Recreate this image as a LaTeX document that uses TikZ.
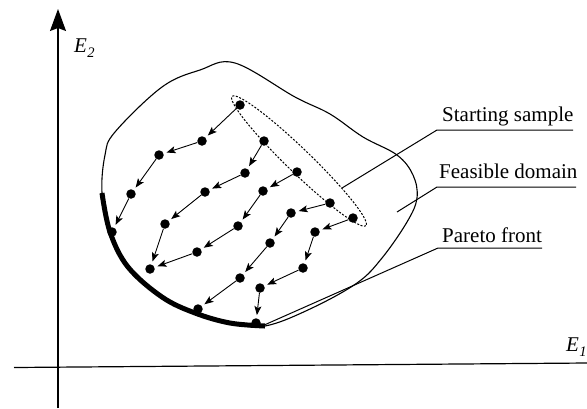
\documentclass[tikz,border=0pt]{standalone}
\usepackage{fontspec}
\setmainfont{Liberation Serif}
\usetikzlibrary{arrows.meta}
\begin{document}
\begin{tikzpicture}[x=1bp,y=-1bp,
  dot/.style={circle,fill=black,inner sep=0pt,minimum size=9.5bp},
  flow/.style={line width=0.9bp,-{Stealth[length=9bp,width=7bp,inset=2bp]},shorten >=3bp},
  lbl/.style={font=\fontsize{21bp}{25bp}\selectfont,anchor=base west,inner sep=0pt},
  lead/.style={line width=1bp},
  axis/.style={line width=1.2bp}]
\useasboundingbox (0,0) rectangle (587,408);
% axes
\coordinate (yb) at (58,408);
\coordinate (yt) at (58,9);
\draw[axis,-{Stealth[length=22bp,width=16bp,inset=3bp]}] (yb) -- (yt);
\coordinate (xl) at (14,367.5);
\coordinate (xr) at (587,363);
\draw[axis] (xl) -- (xr);
\node[lbl] (e2) at (74,52) {\itshape E\kern0.3bp\raisebox{-5bp}{\fontsize{14.5bp}{15bp}\selectfont 2}};
\node[lbl] (e1) at (566,351) {\itshape E\kern0.3bp\raisebox{-5bp}{\fontsize{14.5bp}{15bp}\selectfont 1}};
% feasible domain
\draw[line width=1.1bp] plot[smooth cycle,tension=0.6] coordinates {
  (235,63) (295,97) (330,114) (363,137) (397,155) (413,175) (417,198) (407,222)
  (382,258) (357,283) (310,309) (265,326) (230,323) (195,313) (162,297) (128,267)
  (110,232) (102,193) (105,155) (115,132) (162,87) (200,70)};
% Pareto front
\draw[line width=5bp] plot[smooth,tension=0.6] coordinates {
  (102,193) (110,232) (128,267) (162,297) (195,313) (230,323) (265,326)};
% starting sample ellipse
\draw[line width=1bp,dash pattern=on 2bp off 1.6bp,rotate around={-44:(299,161)}] (299,161) ellipse [x radius=93, y radius=12];
% dots
\foreach \n/\p in {a1/{(240,105)},a2/{(202,141)},a3/{(159,155)},a4/{(131,194)},a5/{(112,232)},
  b1/{(264,141)},b2/{(245,173)},b3/{(205,192)},b4/{(165,224)},b5/{(150,269)},
  c1/{(297,172)},c2/{(263,191)},c3/{(238,226)},c4/{(197,252)},
  d1/{(330,203)},d2/{(291,213)},d3/{(270,243)},d4/{(240,278)},d5/{(198,309)},
  e1/{(353,218)},e2/{(315,232)},e3/{(303,268)},e4/{(260,288)},e5/{(256,323)}}
  \node[dot] (\n) at \p {};
% flows
\draw[flow] (a1) -- (a2); \draw[flow] (a2) -- (a3); \draw[flow] (a3) -- (a4); \draw[flow] (a4) -- (a5);
\draw[flow] (b1) -- (b2); \draw[flow] (b2) -- (b3); \draw[flow] (b3) -- (b4); \draw[flow] (b4) -- (b5);
\draw[flow] (c1) -- (c2); \draw[flow] (c2) -- (c3); \draw[flow] (c3) -- (c4); \draw[flow] (c4) -- (b5);
\draw[flow] (d1) -- (d2); \draw[flow] (d2) -- (d3); \draw[flow] (d3) -- (d4); \draw[flow] (d4) -- (d5);
\draw[flow] (e1) -- (e2); \draw[flow] (e2) -- (e3); \draw[flow] (e3) -- (e4); \draw[flow] (e4) -- (e5);
% labels
\node[lbl] (ls) at (442,121) {Starting sample};
\node[lbl] (lf) at (439,178) {Feasible domain};
\node[lbl] (lp) at (442,242) {Pareto front};
\coordinate (s0) at (342,188); \coordinate (s1) at (437,130); \coordinate (s2) at (573,130);
\coordinate (f0) at (397,212); \coordinate (f1) at (437,187); \coordinate (f2) at (576,187);
\coordinate (p0) at (262,326); \coordinate (p1) at (438,248); \coordinate (p2) at (542,248);
\draw[lead] (s0) -- (s1) -- (s2);
\draw[lead] (f0) -- (f1) -- (f2);
\draw[lead] (p0) -- (p1) -- (p2);
\end{tikzpicture}
\end{document}
